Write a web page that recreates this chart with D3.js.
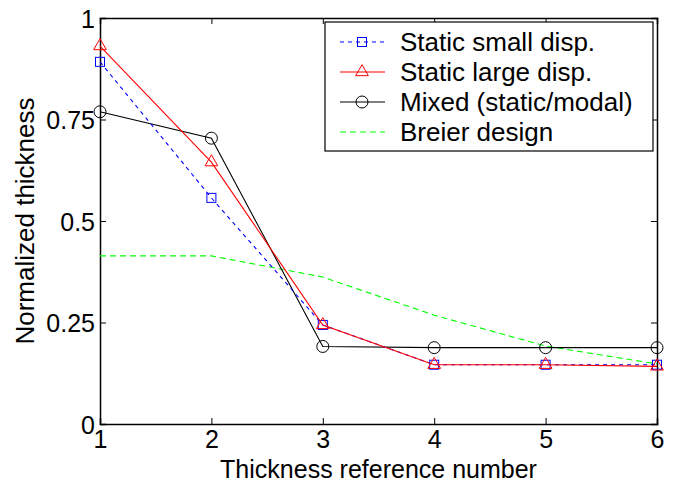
<!DOCTYPE html>
<html><head><meta charset="utf-8">
<script src="https://cdn.jsdelivr.net/npm/d3@7"></script>
<style>body{margin:0;background:#fff}svg{display:block}text{font-family:"Liberation Sans",Arial,sans-serif;fill:#000}</style>
</head><body><svg id="c" width="674" height="485"></svg>
<script>
const refNumbers = [1, 2, 3, 4, 5, 6];
const staticSmall = [0.892, 0.557, 0.244, 0.146, 0.146, 0.146];
const staticLarge = [0.931, 0.645, 0.244, 0.146, 0.146, 0.142];
const mixed = [0.769, 0.704, 0.191, 0.188, 0.188, 0.188];
const breier = [0.414, 0.414, 0.362, 0.268, 0.192, 0.148];
const xTicks = [1, 2, 3, 4, 5, 6];
const yTicks = [0, 0.25, 0.5, 0.75, 1];
const yTickLabels = ["0", "0.25", "0.5", "0.75", "1"];
const seriesNames = ["Static small disp.", "Static large disp.", "Mixed (static/modal)", "Breier design"];

const svg = d3.select("#c");
const L = 100, R = 657, T = 18, B = 424;
const x = d3.scaleLinear().domain([1, 6]).range([L, R]);
const y = d3.scaleLinear().domain([0, 1]).range([B, T]);
const tk = 6;

const series = [
  {name: seriesNames[0], vals: staticSmall, color: "#0000ff", dash: "4,4", marker: "square"},
  {name: seriesNames[1], vals: staticLarge, color: "#ff0000", dash: null, marker: "triangle"},
  {name: seriesNames[2], vals: mixed, color: "#000000", dash: null, marker: "circle"},
  {name: seriesNames[3], vals: breier, color: "#00ff00", dash: "6,4", marker: null}
];

// axes
const gx = svg.append("g").attr("transform", `translate(0,${B})`)
  .call(d3.axisBottom(x).tickValues(xTicks).tickSize(-tk).tickPadding(6).tickFormat(d3.format("d")));
const gxt = svg.append("g").attr("transform", `translate(0,${T})`)
  .call(d3.axisTop(x).tickValues(xTicks).tickSize(-tk).tickFormat(""));
const gy = svg.append("g").attr("transform", `translate(${L},0)`)
  .call(d3.axisLeft(y).tickValues(yTicks).tickSize(-tk).tickPadding(5).tickFormat((d, i) => yTickLabels[i]));
const gyr = svg.append("g").attr("transform", `translate(${R},0)`)
  .call(d3.axisRight(y).tickValues(yTicks).tickSize(-tk).tickFormat(""));
[gx, gxt, gy, gyr].forEach(g => {
  g.select(".domain").attr("stroke", "#000").attr("stroke-width", 1.5);
  g.selectAll(".tick line").attr("stroke", "#000").attr("stroke-width", 1);
  g.selectAll("text").style("font-size", "25px").attr("fill", "#000");
});
gy.selectAll(".tick text").attr("dy", "0.36em");

// lines
const line = d3.line().x((d, i) => x(refNumbers[i])).y(d => y(d));
function marker(g, type, cx, cy, color) {
  if (type === "square") g.append("rect").attr("x", cx - 4.5).attr("y", cy - 4.5).attr("width", 9).attr("height", 9).attr("fill", "none").attr("stroke", color).attr("stroke-width", 1);
  else if (type === "triangle") g.append("path").attr("d", d3.symbol(d3.symbolTriangle, 70)()).attr("transform", `translate(${cx},${cy})`).attr("fill", "none").attr("stroke", color).attr("stroke-width", 1);
  else if (type === "circle") g.append("circle").attr("cx", cx).attr("cy", cy).attr("r", 6).attr("fill", "none").attr("stroke", color).attr("stroke-width", 1);
}
const drawOrder = [3, 2, 0, 1];
drawOrder.forEach(k => {
  const s = series[k];
  const g = svg.append("g");
  g.append("path").datum(s.vals).attr("d", line).attr("fill", "none").attr("stroke", s.color).attr("stroke-width", 1.1).attr("stroke-dasharray", s.dash);
  if (s.marker) s.vals.forEach((v, i) => marker(g, s.marker, x(refNumbers[i]), y(v), s.color));
});

// legend
const lg = svg.append("g");
lg.append("rect").attr("x", 325).attr("y", 22).attr("width", 328).attr("height", 129).attr("fill", "#fff").attr("stroke", "#000").attr("stroke-width", 1.2);
series.forEach((s, i) => {
  const yy = 42 + i * 30;
  lg.append("line").attr("x1", 340).attr("x2", 385).attr("y1", yy).attr("y2", yy).attr("stroke", s.color).attr("stroke-width", 1.1).attr("stroke-dasharray", s.dash);
  if (s.marker) marker(lg, s.marker, 362, yy, s.color);
  lg.append("text").attr("x", 400).attr("y", yy).attr("dy", "0.36em").style("font-size", "26px").text(s.name);
});

// axis labels
svg.append("text").attr("x", (L + R) / 2).attr("y", 478).attr("text-anchor", "middle").style("font-size", "25px").text("Thickness reference number");
svg.append("text").attr("transform", `translate(34,${(T + B) / 2}) rotate(-90)`).attr("text-anchor", "middle").style("font-size", "26px").text("Normalized thickness");
</script></body></html>
